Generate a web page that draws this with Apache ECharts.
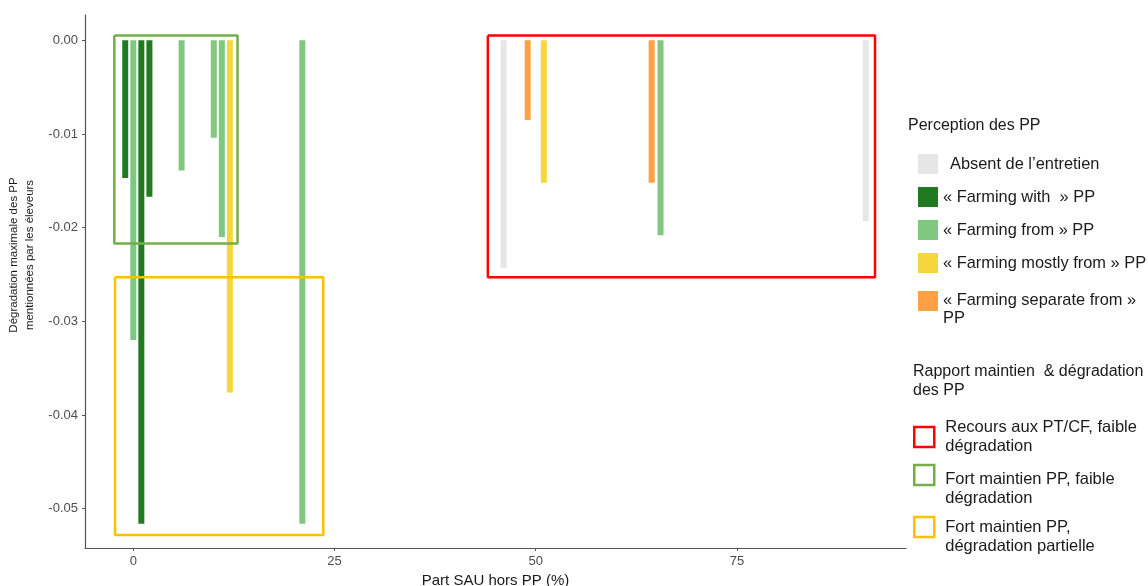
<!DOCTYPE html>
<html>
<head>
<meta charset="utf-8">
<script src="https://cdn.jsdelivr.net/npm/echarts@6/dist/echarts.min.js"></script>
<style>
html,body{margin:0;padding:0;background:#fff;}
#chart{width:1148px;height:586px;}
</style>
</head>
<body>
<div id="chart"></div>
<script>
// ---- Data ----
const perceptionNames = ['Absent de l\u2019entretien', '\u00ab Farming with  \u00bb PP', '\u00ab Farming from \u00bb PP', '\u00ab Farming mostly from \u00bb PP', '\u00ab Farming separate from \u00bb\nPP'];
const perceptionColors = ['#e6e6e6', '#217a21', '#80c780', '#f5d63c', '#ffa045'];

const absentX = [46, 91];
const absentY = [-0.0243, -0.0193];
const withX = [-1, 1, 2];
const withY = [-0.0147, -0.0516, -0.0167];
const fromX = [0, 6, 10, 11, 21, 65.5];
const fromY = [-0.0320, -0.0139, -0.0104, -0.0210, -0.0516, -0.0208];
const mostlyX = [12, 51];
const mostlyY = [-0.0376, -0.0152];
const separateX = [49, 64.4];
const separateY = [-0.0085, -0.0152];

const rectNames = ['Recours aux PT/CF, faible\nd\u00e9gradation', 'Fort maintien PP, faible\nd\u00e9gradation', 'Fort maintien PP,\nd\u00e9gradation partielle'];
const rectColors = ['#ff0000', '#74ae4a', '#ffc000'];
const rectX0 = [44.05, -2.36, -2.27];
const rectX1 = [92.15, 12.95, 23.6];
const rectY0 = [0.0005, 0.0005, -0.0253];
const rectY1 = [-0.0253, -0.0217, -0.0528];

const xTicks = [0, 25, 50, 75];
const yTicks = [0, -0.01, -0.02, -0.03, -0.04, -0.05];

const xTitle = 'Part SAU hors PP (%)';
const yTitle = 'D\u00e9gradation maximale des PP\nmentionn\u00e9es par les \u00e9leveurs';
const legend1Title = 'Perception des PP';
const legend2Title = 'Rapport maintien  & d\u00e9gradation\ndes PP';

// ---- Build ----
const groupsX = [absentX, withX, fromX, mostlyX, separateX];
const groupsY = [absentY, withY, fromY, mostlyY, separateY];

const series = [];
perceptionNames.forEach((name, i) => {
  series.push({
    name: name,
    type: 'bar',
    barWidth: 6,
    barGap: '-100%',
    z: 2,
    itemStyle: { color: perceptionColors[i] },
    data: groupsX[i].map((x, k) => [x, groupsY[i][k]])
  });
});
rectNames.forEach((name, i) => {
  const pts = [
    [rectX0[i], rectY0[i]], [rectX1[i], rectY0[i]], [rectX1[i], rectY1[i]],
    [rectX0[i], rectY1[i]], [rectX0[i], rectY0[i]]
  ];
  series.push({
    name: name,
    type: 'line',
    symbol: 'none',
    showSymbol: false,
    z: 5,
    lineStyle: { color: rectColors[i], width: 2.5 },
    itemStyle: { color: rectColors[i] },
    data: pts
  });
});

const fontFam = '"Liberation Sans", Arial, sans-serif';
const txtColor = '#1a1a1a';

function legendBase(left, top, extra) {
  return Object.assign({
    orient: 'vertical', left: left, top: top, padding: 0,
    itemWidth: 20, itemHeight: 20, itemGap: 13,
    selectedMode: false
  }, extra);
}

// text shifted below the icon centre: a spacer line of height 2*shift is put on top
function shiftedText(fontSize, lineHeight, shift) {
  return {
    formatter: name => '{sp| }\n' + name.split('\n').map(l => '{t|' + l + '}').join('\n'),
    rich: {
      sp: { fontSize: 1, lineHeight: 2 * shift },
      t: { fontSize: fontSize, lineHeight: lineHeight, color: txtColor, fontFamily: fontFam }
    }
  };
}

const legends = [
  legendBase(918, 154, {
    textStyle: { fontSize: 16.4, color: txtColor, lineHeight: 18, fontFamily: fontFam },
    data: perceptionNames.slice(0, 4).map((n, i) => (
      i === 0 ? { name: n, icon: 'rect', textStyle: { padding: [0, 0, 0, 7] } } : { name: n, icon: 'rect' }
    ))
  })
];
(function () {
  const s = shiftedText(16.4, 18, 8);
  legends.push(legendBase(918, 275, {
    formatter: s.formatter,
    textStyle: { fontSize: 16.4, color: txtColor, lineHeight: 18, fontFamily: fontFam, rich: s.rich },
    data: [{ name: perceptionNames[4], icon: 'rect' }]
  }));
})();

const rectLegendTops = [418, 442, 498];
const rectShift = [0, 14, 10];
rectNames.forEach((n, i) => {
  const s = shiftedText(16.5, 19, rectShift[i]);
  legends.push(legendBase(913, rectLegendTops[i], {
    formatter: rectShift[i] > 0 ? s.formatter : undefined,
    textStyle: { fontSize: 16.5, color: txtColor, lineHeight: 19, padding: [0, 0, 0, 6], fontFamily: fontFam, rich: s.rich },
    data: [{
      name: n, icon: 'rect',
      itemStyle: { color: 'rgba(0,0,0,0)', borderColor: rectColors[i], borderWidth: 2.5 }
    }]
  }));
});

const option = {
  animation: false,
  backgroundColor: '#ffffff',
  textStyle: { fontFamily: fontFam },
  title: [
    { text: legend1Title, left: 908, top: 118, padding: 0,
      textStyle: { fontSize: 16, fontWeight: 'normal', color: txtColor, fontFamily: fontFam } },
    { text: legend2Title, left: 913, top: 362, padding: 0,
      textStyle: { fontSize: 16, fontWeight: 'normal', color: txtColor, lineHeight: 19, fontFamily: fontFam } }
  ],
  grid: { left: 85, right: 242, top: 15, bottom: 38, outerBoundsMode: 'none', containLabel: false },
  legend: legends,
  xAxis: {
    type: 'value',
    min: -6, max: 96,
    name: xTitle,
    nameLocation: 'middle',
    nameGap: 24,
    nameTextStyle: { fontSize: 15, color: txtColor, fontFamily: fontFam },
    splitLine: { show: false },
    axisLine: { show: true, onZero: false, lineStyle: { color: '#555', width: 1.2 } },
    axisTick: { show: true, length: 3, customValues: xTicks, lineStyle: { color: '#555' } },
    axisLabel: { customValues: xTicks, fontSize: 13, color: '#4d4d4d', margin: 7, fontFamily: fontFam,
      formatter: v => String(Math.round(v)) }
  },
  yAxis: {
    type: 'value',
    min: -0.0542, max: 0.0027,
    name: yTitle,
    nameLocation: 'middle',
    nameRotate: 90,
    nameGap: 42,
    nameTextStyle: { fontSize: 11.5, color: txtColor, lineHeight: 16, padding: [0, 0, 0, 53], fontFamily: fontFam },
    splitLine: { show: false },
    axisLine: { show: true, onZero: false, lineStyle: { color: '#555', width: 1.2 } },
    axisTick: { show: true, length: 3, customValues: yTicks, lineStyle: { color: '#555' } },
    axisLabel: { customValues: yTicks, fontSize: 13, color: '#4d4d4d', margin: 7, fontFamily: fontFam,
      formatter: v => (Math.abs(v) < 1e-9 ? 0 : v).toFixed(2) }
  },
  series: series
};

const chart = echarts.init(document.getElementById('chart'), null, { renderer: 'canvas' });
chart.setOption(option);
</script>
</body>
</html>
